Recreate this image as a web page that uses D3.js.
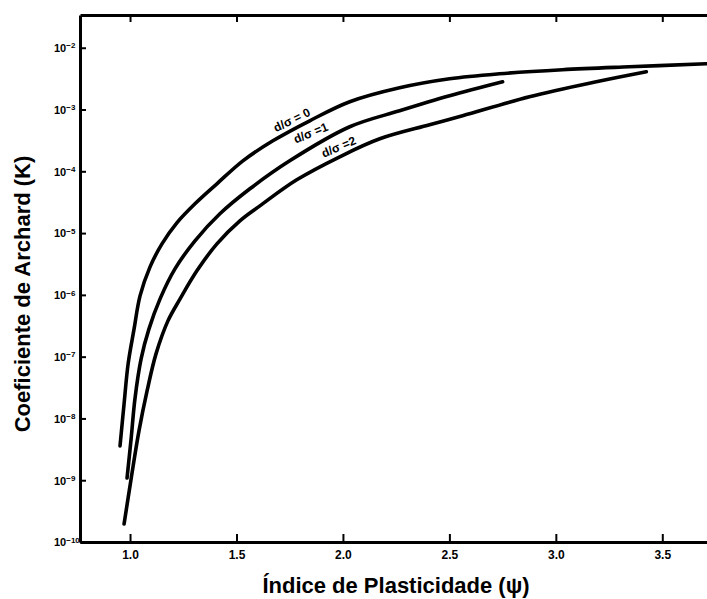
<!DOCTYPE html>
<html lang="pt">
<head>
<meta charset="utf-8">
<script src="https://d3js.org/d3.v7.min.js"></script>
<title>Coeficiente de Archard vs Índice de Plasticidade</title>
<style>
    body { margin: 0; background: #fff; }
    text { font-family: "Liberation Sans", Arial, sans-serif; }
</style>
</head>
<body>
<div id="chart"></div>
<script>
// curve values: psi and log10(K)
const psi0 = [0.953, 0.972, 0.991, 1.019, 1.047, 1.094, 1.150, 1.220, 1.305, 1.408, 1.530, 1.671, 1.844, 2.032, 2.266, 2.501, 2.735, 3.031, 3.345, 3.706, 3.767];
const logK0 = [-8.445, -7.765, -7.117, -6.551, -6.016, -5.547, -5.174, -4.834, -4.526, -4.202, -3.830, -3.506, -3.182, -2.874, -2.648, -2.502, -2.421, -2.356, -2.308, -2.259, -2.25];

const psi1 = [0.986, 1.005, 1.023, 1.052, 1.089, 1.141, 1.211, 1.305, 1.422, 1.563, 1.750, 2.032, 2.266, 2.501, 2.750];
const logK1 = [-8.964, -8.332, -7.684, -7.036, -6.551, -6.065, -5.579, -5.126, -4.688, -4.283, -3.830, -3.279, -3.020, -2.777, -2.551];

const psi2 = [0.972, 1.005, 1.042, 1.080, 1.122, 1.178, 1.235, 1.314, 1.408, 1.516, 1.610, 1.783, 1.985, 2.173, 2.407, 2.562, 2.876, 3.190, 3.425];
const logK2 = [-9.709, -8.980, -8.202, -7.555, -6.955, -6.421, -6.065, -5.611, -5.174, -4.802, -4.559, -4.138, -3.765, -3.474, -3.247, -3.101, -2.794, -2.551, -2.389];

const xTicks = [1.0, 1.5, 2.0, 2.5, 3.0, 3.5];
const yExps = [-2, -3, -4, -5, -6, -7, -8, -9, -10];
const curveLabels = ["d/σ = 0", "d/σ =1", "d/σ =2"];
const labelPsi = [1.760, 1.849, 1.980];
const labelLogK = [-3.166, -3.377, -3.603];
const labelAngle = [-26, -22, -23];

const width = 707, height = 599;
const margin = {top: 15, right: 0, bottom: 57, left: 80};

const svg = d3.select("#chart").append("svg")
    .attr("width", width)
    .attr("height", height);

const x = d3.scaleLinear()
    .domain([0.765, 3.71])
    .range([margin.left, width - margin.right]);

const y = d3.scaleLog()
    .domain([1e-10, Math.pow(10, -1.47)])
    .range([height - margin.bottom, margin.top]);

svg.append("clipPath").attr("id", "plot")
    .append("rect")
    .attr("x", margin.left).attr("y", margin.top)
    .attr("width", width - margin.left).attr("height", height - margin.top - margin.bottom);

// curves
const line = d3.line()
    .x(d => x(d[0]))
    .y(d => y(Math.pow(10, d[1])))
    .curve(d3.curveCatmullRom.alpha(0.5));

const series = [[psi0, logK0], [psi1, logK1], [psi2, logK2]];
svg.append("g")
    .attr("clip-path", "url(#plot)")
    .selectAll("path")
    .data(series)
    .join("path")
    .attr("d", s => line(s[0].map((p, i) => [p, s[1][i]])))
    .attr("fill", "none")
    .attr("stroke", "#000")
    .attr("stroke-width", 3.6)
    .attr("stroke-linecap", "round");

// curve labels
svg.selectAll(".clabel")
    .data(curveLabels)
    .join("text")
    .attr("class", "clabel")
    .attr("transform", (d, i) => `translate(${x(labelPsi[i])},${y(Math.pow(10, labelLogK[i]))}) rotate(${labelAngle[i]})`)
    .attr("text-anchor", "middle")
    .attr("dy", "0.35em")
    .attr("font-size", 12)
    .attr("font-weight", "bold")
    .text(d => d);

// axes
const xAxis = svg.append("g")
    .attr("transform", `translate(0,${height - margin.bottom})`)
    .call(d3.axisBottom(x).tickValues(xTicks).tickSizeInner(-8).tickSizeOuter(0).tickPadding(8).tickFormat(d3.format(".1f")));
xAxis.select(".domain").attr("stroke-width", 3);
xAxis.selectAll(".tick line").attr("stroke-width", 2);
xAxis.selectAll("text").attr("font-size", 12).attr("font-weight", "bold");

const topAxis = svg.append("g")
    .attr("transform", `translate(0,${margin.top})`)
    .call(d3.axisTop(x).tickValues(xTicks).tickSizeInner(-7).tickSizeOuter(0).tickFormat(""));
topAxis.select(".domain").attr("stroke-width", 3);
topAxis.selectAll(".tick line").attr("stroke-width", 2);

const yAxis = svg.append("g")
    .attr("transform", `translate(${margin.left},0)`)
    .call(d3.axisLeft(y).tickValues(yExps.map(e => Math.pow(10, e))).tickSizeInner(-6).tickSizeOuter(0).tickFormat(""));
yAxis.select(".domain").attr("stroke-width", 3);
yAxis.selectAll(".tick line").attr("stroke-width", 2);

const yl = yAxis.selectAll(".tick")
    .append("text")
    .attr("x", -26)
    .attr("dy", "0.35em")
    .attr("fill", "#000")
    .attr("text-anchor", "start")
    .attr("font-size", 11)
    .attr("font-weight", "bold");
yl.append("tspan").text("10");
yl.append("tspan")
    .attr("dy", "-0.45em")
    .attr("font-size", 8)
    .text((d, i) => String(yExps[i]).replace("-", "−"));

// axis titles
svg.append("text")
    .attr("x", 396)
    .attr("y", 593)
    .attr("text-anchor", "middle")
    .attr("font-size", 22)
    .attr("font-weight", "bold")
    .text("Índice de Plasticidade (ψ)");

svg.append("text")
    .attr("transform", "translate(30,294) rotate(-90)")
    .attr("text-anchor", "middle")
    .attr("font-size", 22)
    .attr("font-weight", "bold")
    .text("Coeficiente de Archard (K)");
</script>
</body>
</html>
